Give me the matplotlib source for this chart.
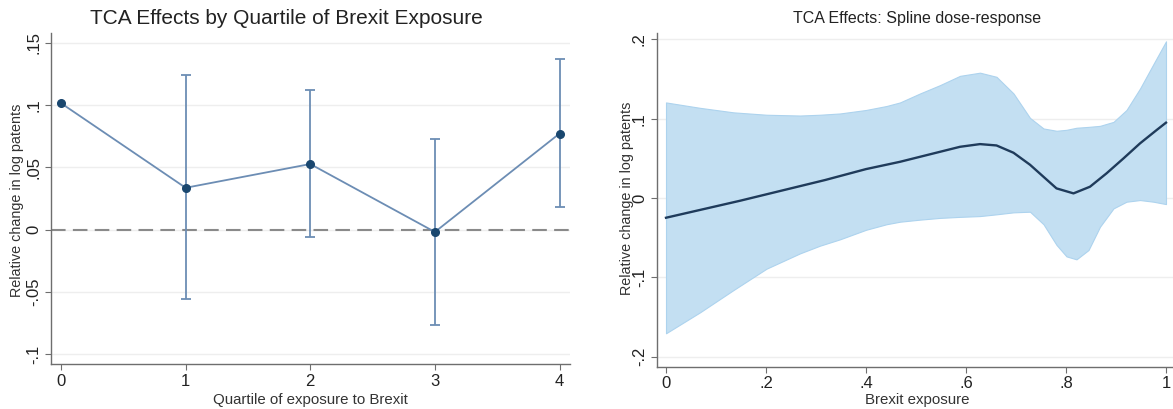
import matplotlib
matplotlib.use("Agg")
import matplotlib.pyplot as plt

plt.rcParams['font.family'] = ['Liberation Sans', 'DejaVu Sans']

# Left panel: quartile estimates
quartiles = [0, 1, 2, 3, 4]
coef = [0.1016, 0.0336, 0.0527, -0.0019, 0.0772]
ci_low = [None, -0.0559, -0.0062, -0.0766, 0.0180]
ci_high = [None, 0.1240, 0.1120, 0.0731, 0.1368]

# Right panel: spline dose-response
exp_line = [0.0, 0.148, 0.318, 0.4, 0.468, 0.508, 0.548, 0.588, 0.628, 0.661,
            0.695, 0.728, 0.755, 0.781, 0.815, 0.848, 0.881, 0.915, 0.948,
            0.981, 1.0]
fit = [-0.0248, -0.0034, 0.0227, 0.0365, 0.0457, 0.0520, 0.0583, 0.0646,
       0.0680, 0.0663, 0.0571, 0.0420, 0.0268, 0.0122, 0.0059, 0.0143,
       0.0311, 0.0500, 0.0689, 0.0856, 0.0950]

exp_band = [0.0, 0.068, 0.135, 0.201, 0.268, 0.308, 0.348, 0.4, 0.441, 0.468,
            0.508, 0.548, 0.588, 0.628, 0.661, 0.695, 0.728, 0.755, 0.781,
            0.801, 0.821, 0.845, 0.868, 0.895, 0.921, 0.948, 0.975, 1.0]
upper = [0.1205, 0.1137, 0.1080, 0.1050, 0.1040, 0.1050, 0.1066, 0.1110,
         0.1160, 0.1205, 0.1318, 0.1423, 0.1540, 0.1580, 0.1528, 0.1318,
         0.1010, 0.0877, 0.0848, 0.0860, 0.0886, 0.0897, 0.0910, 0.0960,
         0.1110, 0.1380, 0.1690, 0.1975]
lower = [-0.1704, -0.1440, -0.1159, -0.0890, -0.0697, -0.0600, -0.0520,
         -0.0400, -0.0330, -0.0298, -0.0272, -0.0250, -0.0237, -0.0227,
         -0.0205, -0.0180, -0.0172, -0.0330, -0.0590, -0.0735, -0.0772,
         -0.0655, -0.0361, -0.0130, -0.0046, -0.0025, -0.0046, -0.0076]

W, H = 1173, 409
fig = plt.figure(figsize=(W / 100, H / 100), dpi=100)

spine_col = '#6e6e6e'
grid_col = '#eeeeee'


def style(ax):
    for s in ['top', 'right']:
        ax.spines[s].set_visible(False)
    for s in ['left', 'bottom']:
        ax.spines[s].set_color(spine_col)
        ax.spines[s].set_linewidth(1.0)
    ax.tick_params(direction='out', length=4, color=spine_col, labelsize=12,
                   labelcolor='#222222', pad=3)
    ax.yaxis.grid(True, color=grid_col, lw=1.0)
    ax.set_axisbelow(True)
    for lab in ax.get_yticklabels():
        lab.set_rotation(90)
        lab.set_va('center')


# ---- left panel
ax1 = fig.add_axes([50.8 / W, 1 - 364 / H, (569.5 - 50.8) / W, (364 - 33) / H])
ax1.axhline(0, color='#8a8a8a', lw=1.5, dashes=(7, 3.5), zorder=1)
for q, lo, hi in zip(quartiles, ci_low, ci_high):
    if lo is None:
        continue
    ax1.errorbar(q, (lo + hi) / 2, yerr=(hi - lo) / 2, fmt='none',
                 ecolor='#6c8db4', elinewidth=1.3, capsize=3.5, capthick=1.3,
                 zorder=2)
ax1.plot(quartiles, coef, color='#6c8db4', lw=1.3, zorder=3)
ax1.plot(quartiles, coef, 'o', color='#1a476f', ms=5.5, zorder=4)
ax1.set_xlim(-0.082, 4.08)
ax1.set_ylim(-0.108, 0.158)
ax1.set_xticks(quartiles)
ax1.set_yticks([-0.1, -0.05, 0, 0.05, 0.1, 0.15])
ax1.set_yticklabels(['-.1', '-.05', '0', '.05', '.1', '.15'])
style(ax1)

# ---- right panel
ax2 = fig.add_axes([656.7 / W, 1 - 366.7 / H, (W - 656.7) / W, (366.7 - 33) / H])
ax2.fill_between(exp_band, lower, upper, facecolor='#c3dff2',
                 edgecolor='#add3ee', lw=0.8, zorder=1)
ax2.plot(exp_line, fit, color='#1f3b5b', lw=1.7, zorder=3)
ax2.set_xlim(-0.0186, 1.014)
ax2.set_ylim(-0.2125, 0.208)
ax2.set_xticks([0, 0.2, 0.4, 0.6, 0.8, 1.0])
ax2.set_xticklabels(['0', '.2', '.4', '.6', '.8', '1'])
ax2.set_yticks([-0.2, -0.1, 0, 0.1, 0.2])
ax2.set_yticklabels(['-.2', '-.1', '0', '.1', '.2'])
style(ax2)

# ---- titles and axis labels
fig.text(286.7 / W, 1 - 18 / H, 'TCA Effects by Quartile of Brexit Exposure',
         ha='center', va='center', fontsize=15, color='#222222')
fig.text(917 / W, 1 - 18 / H, 'TCA Effects: Spline dose-response',
         ha='center', va='center', fontsize=11.5, color='#222222')
fig.text(310 / W, 1 - 400 / H, 'Quartile of exposure to Brexit',
         ha='center', va='center', fontsize=10.8, color='#333333')
fig.text(917 / W, 1 - 400 / H, 'Brexit exposure',
         ha='center', va='center', fontsize=10.8, color='#333333')
fig.text(16.7 / W, 1 - 200 / H, 'Relative change in log patents',
         ha='center', va='center', rotation=90, fontsize=10.4, color='#333333')
fig.text(626.7 / W, 1 - 198 / H, 'Relative change in log patents',
         ha='center', va='center', rotation=90, fontsize=10.4, color='#333333')

fig.savefig('out.png', dpi=100)
